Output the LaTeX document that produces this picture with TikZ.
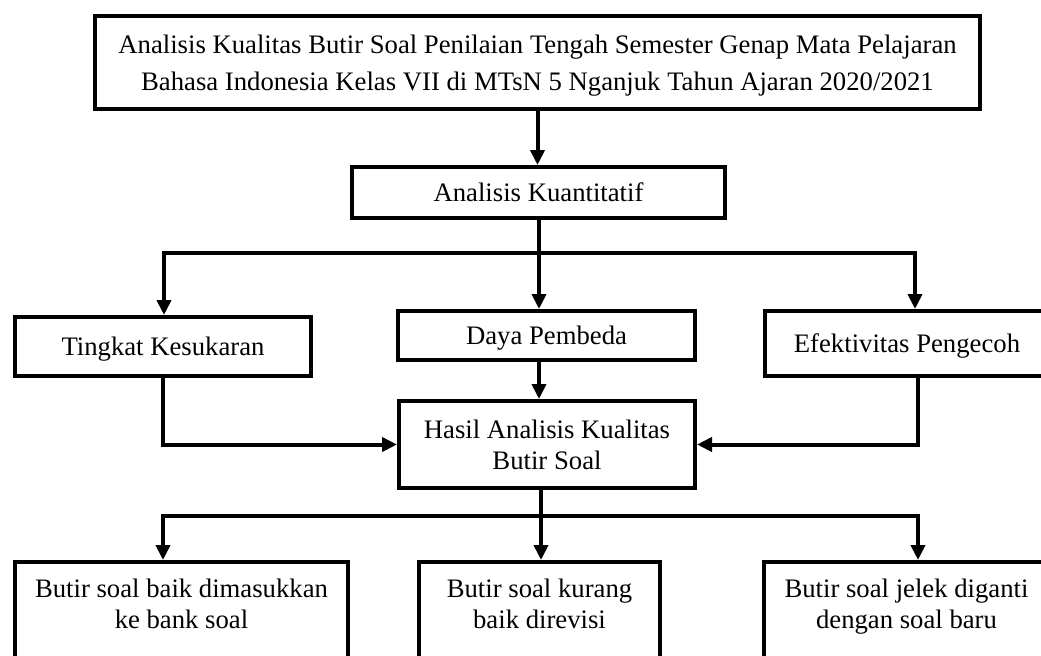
\documentclass[tikz,border=0pt]{standalone}
\usepackage{fontspec}
\setmainfont{Liberation Serif}
\usetikzlibrary{arrows.meta}
\newcommand{\ms}{\rule[-3pt]{0pt}{15pt}}
\begin{document}
\begin{tikzpicture}[x=0.5pt,y=-0.5pt,
  box/.style={draw, line width=2pt, inner sep=0pt, align=center,
    font=\fontsize{13.35}{15.5}\selectfont},
  txt/.style={inner sep=0pt, align=center, font=\fontsize{13.35}{15.8}\selectfont},
  conn/.style={line width=2pt},
  arr/.style={conn, -{Triangle[length=7.5pt,width=7pt]}}]
\useasboundingbox (0,0) rectangle (1041,655);
\clip (0,0) rectangle (1041,655);

\node[box, minimum width=442.5pt, minimum height=46.5pt,
  font=\fontsize{13.35}{18.5}\selectfont] (top) at (537.5,62.5)
  {\ms Analisis Kualitas Butir Soal Penilaian Tengah Semester Genap Mata Pelajaran\\
   \ms Bahasa Indonesia Kelas VII di MTsN 5 Nganjuk Tahun Ajaran 2020/2021};
\node[box, minimum width=186.5pt, minimum height=25.5pt] (kuant) at (538.5,192.5) {\ms Analisis Kuantitatif};
\node[box, minimum width=148pt, minimum height=29.5pt] (tingkat) at (163,346.5) {\ms Tingkat Kesukaran};
\node[box, minimum width=148.5pt, minimum height=24.5pt] (daya) at (546.5,335.5) {\ms Daya Pembeda};
\node[box, minimum width=142pt, minimum height=32.5pt] (efek) at (907,343.5) {\ms Efektivitas Pengecoh};
\node[box, minimum width=148pt, minimum height=43.5pt] (hasil) at (547,444.5) {\ms Hasil Analisis Kualitas\\\ms Butir Soal};

\node[box, minimum width=166.5pt, minimum height=79pt] (bl) at (181.5,641) {};
\node[box, minimum width=120.5pt, minimum height=79pt] (bm) at (539.5,641) {};
\node[box, minimum width=142.5pt, minimum height=79pt] (br) at (906.5,641) {};
\node[txt] (blt) at (181.5,604) {\ms Butir soal baik dimasukkan\\\ms ke bank soal};
\node[txt] (bmt) at (539.5,604) {\ms Butir soal kurang\\\ms baik direvisi};
\node[txt] (brt) at (906.5,604) {\ms Butir soal jelek diganti\\\ms dengan soal baru};

\coordinate (s1) at (539,253);
\coordinate (s1l) at (164,253);
\coordinate (s1r) at (915,253);
\coordinate (eb) at (918,378);
\coordinate (s2) at (541,516);
\coordinate (s2l) at (163,516);
\coordinate (s2r) at (918,516);

\draw[arr] (top.south) -- (top.south |- kuant.north);
\draw[conn] (kuant.south -| s1) -- (s1);
\draw[arr] (s1) -| (s1l |- tingkat.north);
\draw[arr] (s1) -| (s1r |- efek.north);
\draw[arr] (s1) -- (s1 |- daya.north);
\draw[arr] (s1 |- daya.south) -- (s1 |- hasil.north);
\draw[arr] (tingkat.south) |- (hasil.west);
\draw[arr] (efek.south -| eb) |- (hasil.east);
\draw[conn] (hasil.south -| s2) -- (s2);
\draw[arr] (s2) -| (s2l |- bl.north);
\draw[arr] (s2) -| (s2r |- br.north);
\draw[arr] (s2) -- (s2 |- bm.north);
\end{tikzpicture}
\end{document}
